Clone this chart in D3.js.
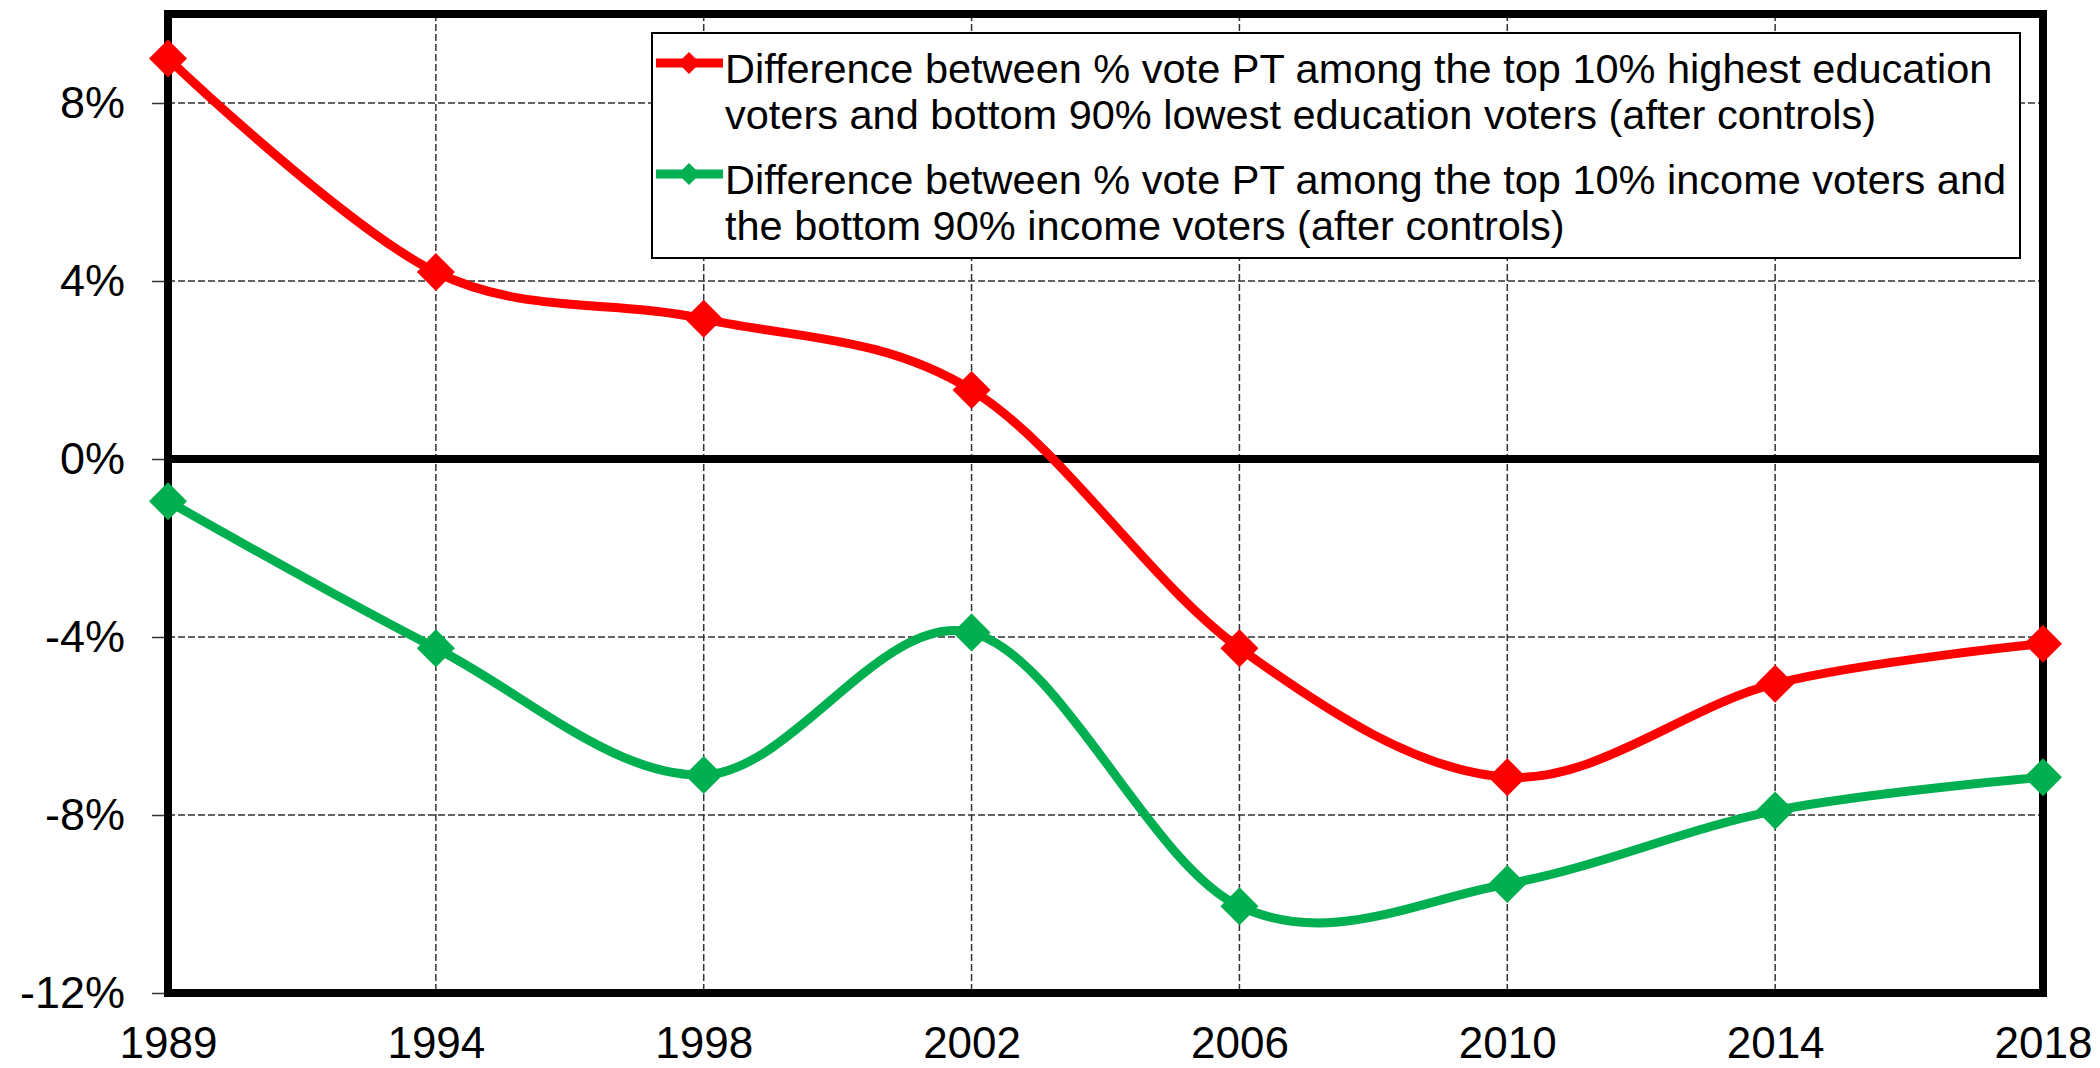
<!DOCTYPE html>
<html><head><meta charset="utf-8">
<script src="https://cdn.jsdelivr.net/npm/d3@7"></script>
<style>
body{margin:0;background:#fff}
svg{display:block}
text{font-family:Arial,"Liberation Sans",sans-serif;fill:#000}
</style>
</head><body>
<svg id="chart" width="2100" height="1068"></svg>
<script>
// ---- data ----
const years = ["1989","1994","1998","2002","2006","2010","2014","2018"];
const educationGap = [9.0, 4.2, 3.15, 1.55, -4.25, -7.15, -5.05, -4.15];
const incomeGap = [-0.95, -4.25, -7.1, -3.9, -10.05, -9.55, -7.9, -7.15];
const yTicks = [-12, -8, -4, 0, 4, 8];
const yDomain = [-12, 10];
const legendLines = [
  ["Difference between % vote PT among the top 10% highest education",
   "voters and bottom 90% lowest education voters (after controls)"],
  ["Difference between % vote PT among the top 10% income voters and",
   "the bottom 90% income voters (after controls)"]
];
const colors = ["#FF0000", "#00B050"];

// ---- layout ----
const L = 168, R = 2043, T = 14, B = 993;
const svg = d3.select("#chart");
svg.append("rect").attr("width",2100).attr("height",1068).attr("fill","#fff");

const x = d3.scalePoint().domain(years).range([L, R]);
const y = d3.scaleLinear().domain(yDomain).range([B, T]);

// gridlines
const grid = svg.append("g");
grid.selectAll("line.h").data(yTicks.filter(d => d !== 0 && d !== yDomain[0]))
  .join("line").attr("class","h")
  .attr("x1", L).attr("x2", R).attr("y1", d => y(d)).attr("y2", d => y(d))
  .attr("stroke","#333").attr("stroke-width",1.5).attr("stroke-dasharray","7,3");
grid.selectAll("line.v").data(years.slice(1, -1))
  .join("line").attr("class","v")
  .attr("x1", d => x(d)).attr("x2", d => x(d)).attr("y1", T).attr("y2", B)
  .attr("stroke","#333").attr("stroke-width",1.5).attr("stroke-dasharray","7,3");

// y axis
const yAxis = svg.append("g").attr("transform",`translate(${L},0)`)
  .call(d3.axisLeft(y).tickValues(yTicks).tickFormat(d => d + "%").tickSize(16).tickPadding(27));
yAxis.select(".domain").remove();
yAxis.selectAll(".tick line").attr("stroke","#333").attr("stroke-width",1.5);
yAxis.selectAll("text").attr("font-size",45).attr("font-family","Arial, 'Liberation Sans', sans-serif").attr("fill","#000");

// x axis
const xAxis = svg.append("g").attr("transform",`translate(0,${B})`)
  .call(d3.axisBottom(x).tickSize(0).tickPadding(34));
xAxis.select(".domain").remove();
xAxis.selectAll("text").attr("font-size",44).attr("font-family","Arial, 'Liberation Sans', sans-serif").attr("fill","#000");

// zero line and frame
svg.append("line").attr("x1",L).attr("x2",R).attr("y1",y(0)).attr("y2",y(0))
  .attr("stroke","#000").attr("stroke-width",8);
svg.append("rect").attr("x",L).attr("y",T).attr("width",R-L).attr("height",B-T)
  .attr("fill","none").attr("stroke","#000").attr("stroke-width",8);

// series
const seriesData = [educationGap, incomeGap];
const line = d3.line().x((d,i) => x(years[i])).y(d => y(d)).curve(d3.curveCardinal.tension(0));
const diamond = r => `M0,${-r}L${r},0L0,${r}L${-r},0Z`;

seriesData.forEach((vals, si) => {
  svg.append("path").datum(vals).attr("d", line)
    .attr("fill","none").attr("stroke",colors[si]).attr("stroke-width",9)
    .attr("stroke-linejoin","round");
  svg.append("g").selectAll("path").data(vals).join("path")
    .attr("d", diamond(19))
    .attr("transform",(d,i) => `translate(${x(years[i])},${y(d)})`)
    .attr("fill",colors[si]);
});

// legend
const lg = svg.append("g");
lg.append("rect").attr("x",652).attr("y",33).attr("width",2020-652).attr("height",258-33)
  .attr("fill","#fff").attr("stroke","#000").attr("stroke-width",2);
const baselines = [[83,129],[194,240]];
legendLines.forEach((lines, si) => {
  const sy = baselines[si][0] - 20;
  lg.append("line").attr("x1",656).attr("x2",723).attr("y1",sy).attr("y2",sy)
    .attr("stroke",colors[si]).attr("stroke-width",9);
  lg.append("path").attr("d",diamond(11)).attr("transform",`translate(689,${sy})`).attr("fill",colors[si]);
  lines.forEach((t, li) => {
    lg.append("text").attr("x",725).attr("y",baselines[si][li]).attr("font-size",41.5).text(t);
  });
});
</script>
</body></html>
